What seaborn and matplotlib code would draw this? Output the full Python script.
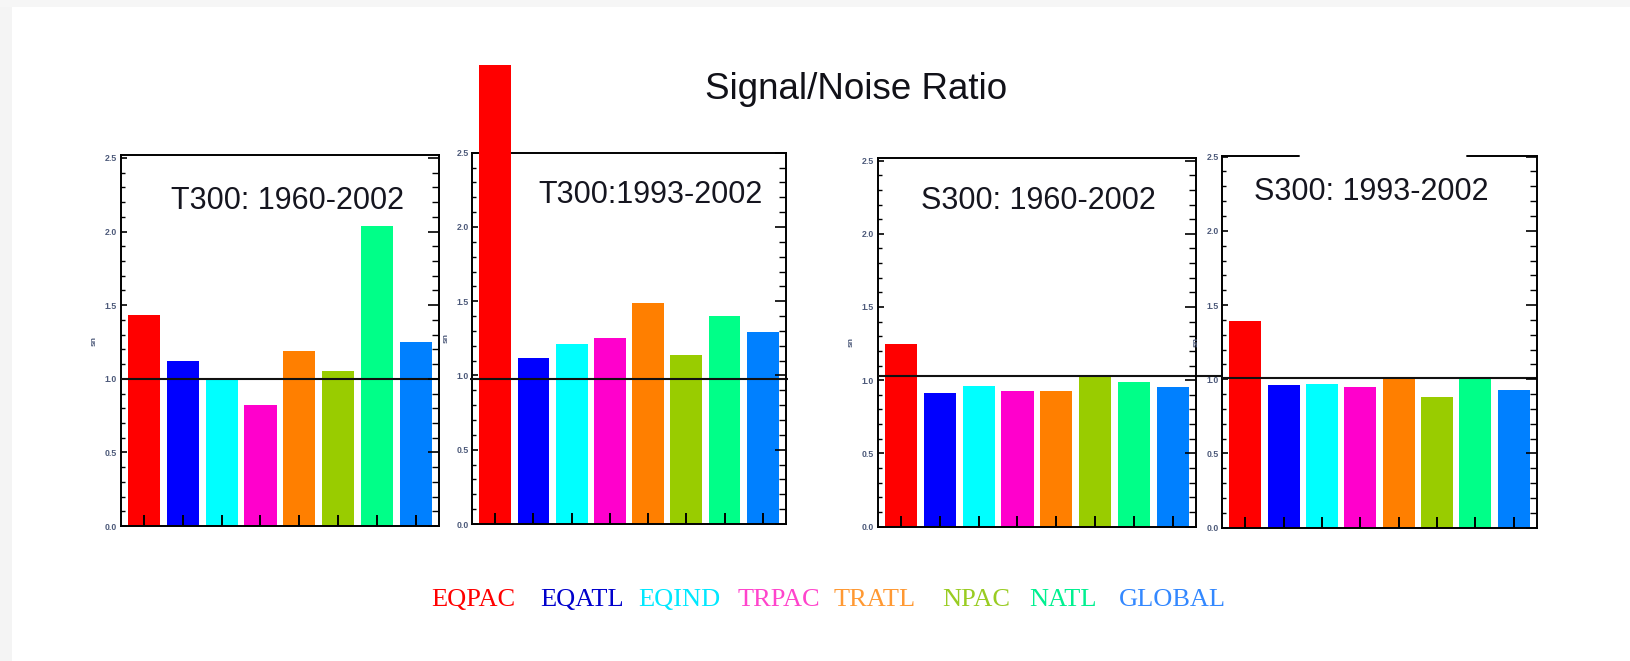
import matplotlib
matplotlib.use("Agg")
import matplotlib.pyplot as plt
import seaborn as sns
from matplotlib.patches import Rectangle
from matplotlib.lines import Line2D
from matplotlib.ticker import MultipleLocator, FixedLocator, FormatStrFormatter

# ---- data -------------------------------------------------------------
regions = ["EQPAC", "EQATL", "EQIND", "TRPAC", "TRATL", "NPAC", "NATL", "GLOBAL"]
bar_colors = ["#ff0000", "#0000ff", "#00ffff", "#ff00cc",
              "#ff7f00", "#99cc00", "#00ff88", "#0080ff"]
label_colors = ["#ff0000", "#0000cc", "#00e8ff", "#ff44cc",
                "#ff9933", "#99cc22", "#00f090", "#3388ff"]

t300_1960_2002 = [1.43, 1.12, 1.00, 0.82, 1.19, 1.05, 2.04, 1.25]
t300_1993_2002 = [3.09, 1.12, 1.21, 1.25, 1.49, 1.14, 1.40, 1.29]
s300_1960_2002 = [1.25, 0.91, 0.96, 0.925, 0.925, 1.03, 0.99, 0.95]
s300_1993_2002 = [1.39, 0.96, 0.97, 0.945, 1.01, 0.88, 1.01, 0.93]

panel_titles = ["T300: 1960-2002", "T300:1993-2002",
                "S300: 1960-2002", "S300: 1993-2002"]
ref_levels = [1.0, 0.975, 1.03, 1.01]
y_tick_values = [0.0, 0.5, 1.0, 1.5, 2.0, 2.5]
y_tops = [2.52, 2.5, 2.516, 2.506]

main_title = "Signal/Noise Ratio"
y_label = "sn"

# ---- layout -----------------------------------------------------------
W, H = 1630, 661
sns.set_theme(style="white")
plt.rcParams["font.family"] = ["Liberation Sans", "DejaVu Sans"]
plt.rcParams.update({
    "xtick.bottom": True, "xtick.top": False,
    "ytick.left": True,
    "xtick.direction": "in", "ytick.direction": "in",
    "xtick.color": "black", "ytick.color": "black",
    "axes.axisbelow": False,
})

fig = plt.figure(figsize=(W / 100, H / 100), dpi=100)
fig.patch.set_facecolor("white")

# light frame strips along the top and left edges
fig.patches.append(Rectangle((0, 0), 12 / W, 1, transform=fig.transFigure,
                             facecolor="#f4f4f4", edgecolor="none", zorder=0))
fig.patches.append(Rectangle((0, 1 - 7 / H), 1, 7 / H, transform=fig.transFigure,
                             facecolor="#f6f6f6", edgecolor="none", zorder=0))

# axes boxes in pixels: left, right, top, bottom
boxes = [(120.7, 439.0, 155.0, 526.0),
         (472.3, 785.7, 152.7, 524.0),
         (877.7, 1196.0, 158.3, 526.5),
         (1222.3, 1536.7, 155.7, 527.7)]
title_pos = [(0.524, 0.854), (0.568, 0.864), (0.505, 0.862), (0.474, 0.881)]
line_span = [(0.0, 1.0), (-0.008, 1.008), (0.0, 1.078), (0.0, 1.0)]

series = [t300_1960_2002, t300_1993_2002, s300_1960_2002, s300_1993_2002]

for i, vals in enumerate(series):
    l, r, t, b = boxes[i]
    ax = fig.add_axes([l / W, (H - b) / H, (r - l) / W, (b - t) / H])
    ax.set_facecolor("white")

    sns.barplot(x=regions, y=vals, hue=regions, order=regions,
                hue_order=regions, palette=bar_colors, saturation=1,
                width=0.83, legend=False, ax=ax, edgecolor="none")
    for p in ax.patches:
        p.set_clip_on(False)
        p.set_zorder(1)
    ax.set_axisbelow(False)

    ax.set_xlim(-0.6, 7.6)
    ax.set_ylim(0, y_tops[i])

    # reference line
    ax.hlines(ref_levels[i], line_span[i][0], line_span[i][1],
              transform=ax.get_yaxis_transform(), colors="#111111",
              linewidth=1.5, clip_on=False, zorder=4)

    # spines
    for name, sp in ax.spines.items():
        sp.set_visible(True)
        sp.set_color("black")
        sp.set_linewidth(1.4)
    ax.spines["top"].set_zorder(0.5)
    ax.spines["right"].set_visible(False)

    # ticks
    ax.xaxis.set_major_locator(FixedLocator(list(range(len(regions)))))
    ax.set_xticklabels([])
    ax.tick_params(axis="x", which="major", direction="in", length=8,
                   width=1.4, color="black", bottom=True, top=False,
                   labelbottom=False)
    ax.yaxis.set_major_locator(FixedLocator(y_tick_values))
    ax.yaxis.set_minor_locator(MultipleLocator(0.1))
    ax.yaxis.set_major_formatter(FormatStrFormatter("%.1f"))
    ax.tick_params(axis="y", which="major", direction="in", length=4.5,
                   width=1.2, color="black", left=True, right=False,
                   labelsize=6.3, labelcolor="#4d5a7a", pad=2.5)
    ax.tick_params(axis="y", which="minor", direction="in", length=3,
                   width=1.0, color="black", left=True, right=False)
    ax.set_xlabel("")
    ax.set_ylabel(y_label, fontsize=6, color="#4d5a7a", labelpad=5,
                  fontweight="bold")
    for lab in ax.get_yticklabels():
        lab.set_fontweight("bold")

    # right-hand axis carrying the longer inward ticks
    tw = ax.twinx()
    tw.set_ylim(ax.get_ylim())
    for name, sp in tw.spines.items():
        sp.set_visible(name == "right")
    tw.spines["right"].set_linewidth(1.4)
    tw.spines["right"].set_color("black")
    tw.yaxis.set_major_locator(FixedLocator(y_tick_values))
    tw.yaxis.set_minor_locator(MultipleLocator(0.1))
    tw.tick_params(axis="y", which="major", direction="in", length=8,
                   width=1.2, color="black", labelright=False, left=False,
                   right=True)
    tw.tick_params(axis="y", which="minor", direction="in", length=5,
                   width=1.0, color="black", left=False, right=True)
    tw.grid(False)
    ax.grid(False)

    if i == 3:
        # top border interrupted behind the panel heading
        ax.spines["top"].set_visible(False)
        for x0, x1 in [(0.0, 0.244), (0.779, 1.0)]:
            ax.add_line(Line2D([x0, x1], [1, 1], transform=ax.transAxes,
                               color="black", linewidth=1.4, clip_on=False))

    ax.text(title_pos[i][0], title_pos[i][1], panel_titles[i],
            transform=ax.transAxes, ha="center", va="baseline",
            fontsize=22, color="#15151f", zorder=5)

fig.text(856 / W, (H - 99) / H, main_title, ha="center", va="baseline",
         fontsize=26.5, color="#111118")

# coloured region key along the bottom
key_x = [473, 581.6, 679, 779, 874.5, 976, 1062.7, 1172.4]
for name, col, x in zip(regions, label_colors, key_x):
    fig.text(x / W, (H - 606.5) / H, name, ha="center", va="baseline",
             fontsize=19, color=col, family=["Liberation Serif", "DejaVu Serif"])

fig.savefig("out.png", dpi=100, facecolor=fig.get_facecolor())
